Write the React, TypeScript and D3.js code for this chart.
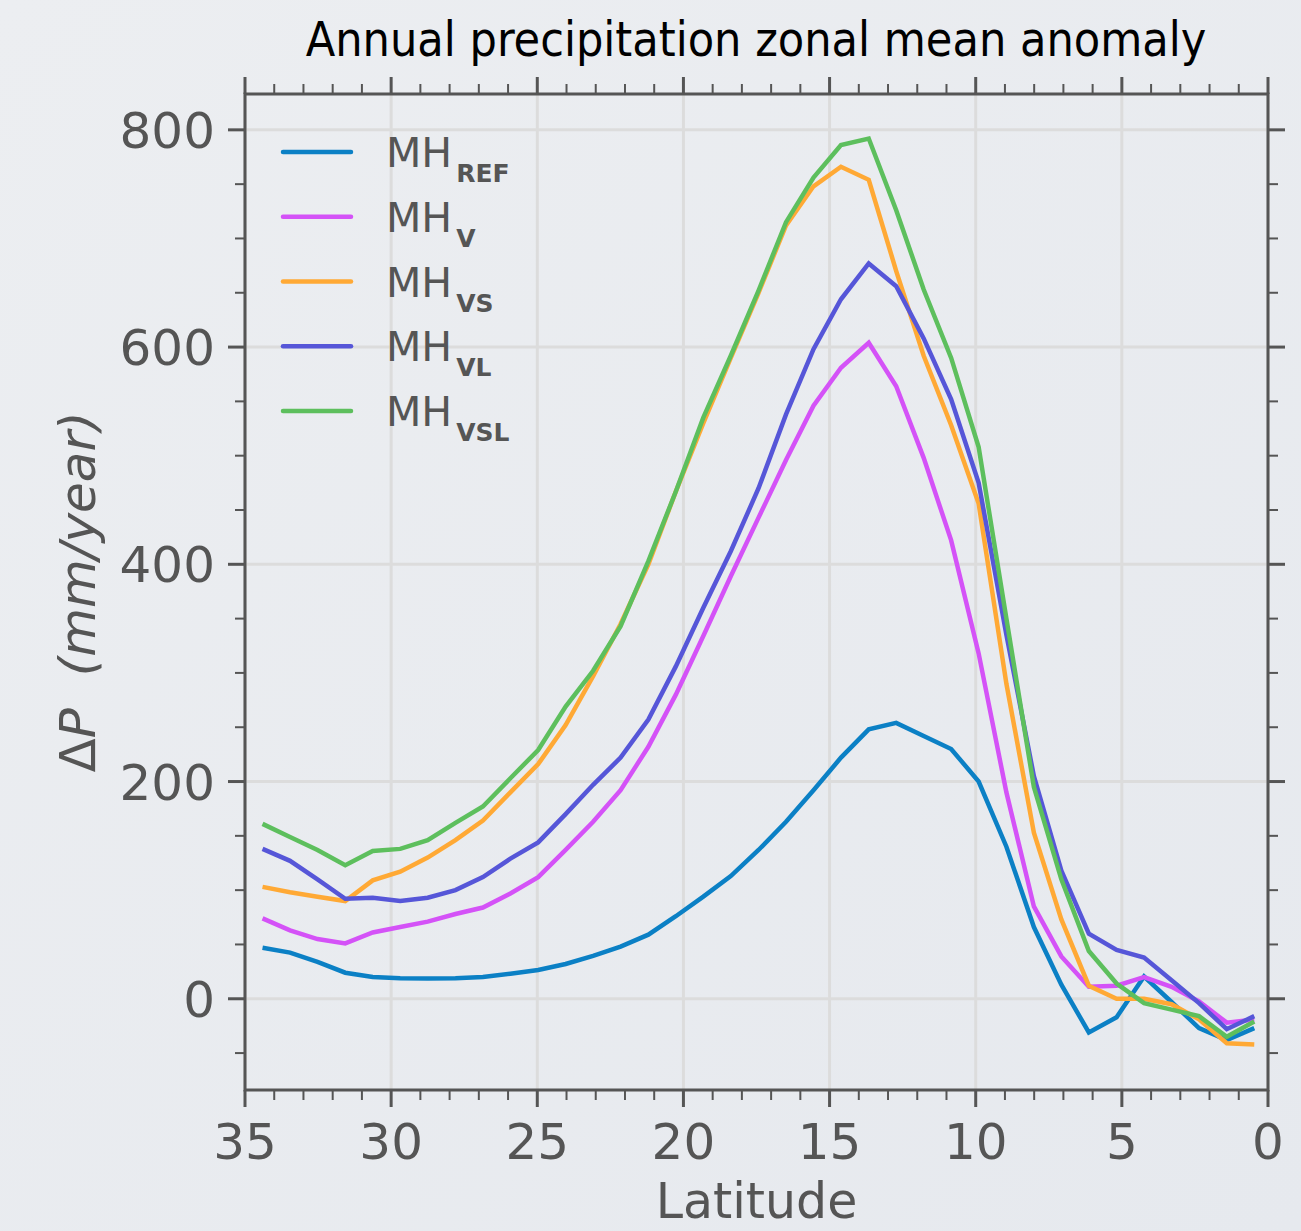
import React from 'react';
import * as d3 from 'd3';

const latitudes = [34.40, 33.46, 32.52, 31.57, 30.63, 29.69, 28.75, 27.80, 26.86, 25.92, 24.97, 24.03, 23.09, 22.15, 21.20, 20.26, 19.32, 18.38, 17.43, 16.49, 15.55, 14.61, 13.66, 12.72, 11.78, 10.84, 9.90, 8.95, 8.01, 7.07, 6.13, 5.18, 4.24, 3.30, 2.36, 1.41, 0.47];
const mhRef = [47, 42.5, 34, 24, 20, 19, 18.7, 19, 20, 23, 26.5, 32, 39.5, 48, 59, 76, 94, 113, 137, 163, 192, 222, 248, 254, 242, 230, 200, 140, 66, 13, -31, -17, 20.5, -3, -27, -38, -27];
const mhV = [74, 63, 55, 51, 61, 66, 71, 78, 84, 97, 112, 137, 163, 192, 232, 280, 334, 389, 443, 496, 546, 581, 604, 564, 498, 422, 318, 190, 85, 39, 11, 12, 20, 11, -2.5, -22, -19];
const mhVS = [103, 98, 94, 90, 109, 117, 130, 146, 164, 190, 216, 252, 297, 345, 400, 467, 530, 590, 650, 712, 748, 766, 754, 670, 592, 528, 456, 290, 153, 73, 12, 0, 0, -5, -19, -41, -42];
const mhVL = [138, 127, 110, 92, 93, 90, 93, 100, 112, 129, 144, 170, 197, 222, 257, 306, 360, 412, 470, 538, 598, 644, 677, 656, 608, 552, 475, 335, 205, 118, 60, 45, 38, 17, -4, -28, -16];
const mhVSL = [161, 149, 137, 123, 136, 138, 146, 162, 177, 203, 229, 269, 302, 343, 403, 467, 535, 592, 652, 715, 756, 786, 792, 726, 653, 590, 508, 350, 195, 110, 44, 14, -4, -10, -16, -35, -21];

const seriesSubscripts = ['REF', 'V', 'VS', 'VL', 'VSL'];
const seriesValues = [mhRef, mhV, mhVS, mhVL, mhVSL];
const seriesColors = ['#0b80c5', '#d452f7', '#ffa935', '#5656d8', '#5dbf5d'];

const xMajorTicks = [35, 30, 25, 20, 15, 10, 5, 0];
const yMajorTicks = [0, 200, 400, 600, 800];
const xDomain = [35, 0];
const yDomain = [-84, 833];

const W = 1301;
const H = 1231;
const L = 245, R = 1268, T = 94, B = 1090;
const AXIS = '#555555';
const FONT = 'DejaVu Sans, sans-serif';

export default function App() {
  const x = d3.scaleLinear().domain(xDomain).range([L, R]);
  const y = d3.scaleLinear().domain(yDomain).range([B, T]);
  const xMinor = d3.range(0, 36, 1).filter((v) => v % 5 !== 0);
  const yMinor = d3.range(-50, 833, 50).filter((v) => v % 200 !== 0);

  const line = d3
    .line<number>()
    .x((_, i) => x(latitudes[i]))
    .y((d) => y(d));

  const majorLen = 17;
  const minorLen = 10;

  return (
    <svg
      width={W}
      height={H}
      style={{ position: 'absolute', left: 0, top: 0, display: 'block' }}
    >
      <defs>
        <linearGradient id="bg" x1="0" y1="0" x2="1" y2="1">
          <stop offset="0" stopColor="#eceef1" />
          <stop offset="1" stopColor="#e6e9ee" />
        </linearGradient>
      </defs>
      <rect x={0} y={0} width={W} height={H} fill="url(#bg)" />

      {/* grid */}
      <g stroke="#dcdcdc" strokeWidth={3}>
        {xMajorTicks.map((t) => (
          <line key={'gx' + t} x1={x(t)} x2={x(t)} y1={T} y2={B} />
        ))}
        {yMajorTicks.map((t) => (
          <line key={'gy' + t} x1={L} x2={R} y1={y(t)} y2={y(t)} />
        ))}
      </g>

      {/* series */}
      <g fill="none" strokeWidth={4.5} strokeLinejoin="miter" strokeLinecap="butt">
        {seriesValues.map((vals, i) => (
          <path key={'s' + i} d={line(vals) || ''} stroke={seriesColors[i]} />
        ))}
      </g>

      {/* spines */}
      <rect x={L} y={T} width={R - L} height={B - T} fill="none" stroke={AXIS} strokeWidth={3} />

      {/* ticks */}
      <g stroke={AXIS}>
        {xMajorTicks.map((t) => (
          <g key={'xt' + t} strokeWidth={3}>
            <line x1={x(t)} x2={x(t)} y1={B} y2={B + majorLen} />
            <line x1={x(t)} x2={x(t)} y1={T} y2={T - majorLen} />
          </g>
        ))}
        {xMinor.map((t) => (
          <g key={'xm' + t} strokeWidth={2}>
            <line x1={x(t)} x2={x(t)} y1={B} y2={B + minorLen} />
            <line x1={x(t)} x2={x(t)} y1={T} y2={T - minorLen} />
          </g>
        ))}
        {yMajorTicks.map((t) => (
          <g key={'yt' + t} strokeWidth={3}>
            <line x1={L} x2={L - majorLen} y1={y(t)} y2={y(t)} />
            <line x1={R} x2={R + majorLen} y1={y(t)} y2={y(t)} />
          </g>
        ))}
        {yMinor.map((t) => (
          <g key={'ym' + t} strokeWidth={2}>
            <line x1={L} x2={L - minorLen} y1={y(t)} y2={y(t)} />
            <line x1={R} x2={R + minorLen} y1={y(t)} y2={y(t)} />
          </g>
        ))}
      </g>

      {/* tick labels */}
      <g fill={AXIS} fontFamily={FONT} fontSize={50}>
        {xMajorTicks.map((t) => (
          <text key={'xl' + t} x={x(t)} y={B + 69} textAnchor="middle">
            {t}
          </text>
        ))}
        {yMajorTicks.map((t) => (
          <text key={'yl' + t} x={L - 30} y={y(t) + 18} textAnchor="end">
            {t}
          </text>
        ))}
      </g>

      {/* axis labels */}
      <text
        x={(L + R) / 2}
        y={1218}
        textAnchor="middle"
        fill={AXIS}
        fontFamily={FONT}
        fontSize={49}
      >
        Latitude
      </text>
      <text
        transform={`translate(95, ${(T + B) / 2}) rotate(-90)`}
        textAnchor="middle"
        fill={AXIS}
        fontFamily={FONT}
        fontSize={50}
      >
        <tspan>Δ</tspan>
        <tspan fontStyle="italic">P</tspan>
        <tspan fontStyle="italic">{'\u00a0 (mm/year)'}</tspan>
      </text>

      {/* title */}
      <text
        x={756}
        y={56}
        textAnchor="middle"
        fill="#000"
        fontFamily="DejaVu Sans Condensed, DejaVu Sans, sans-serif"
        fontStretch="condensed"
        fontSize={48}
      >
        Annual precipitation zonal mean anomaly
      </text>

      {/* legend */}
      <g>
        {seriesSubscripts.map((s, i) => {
          const ly = 152 + i * 64.75;
          return (
            <g key={'lg' + s}>
              <line
                x1={283}
                x2={351}
                y1={ly}
                y2={ly}
                stroke={seriesColors[i]}
                strokeWidth={4.5}
                strokeLinecap="round"
              />
              <text x={386} y={ly + 15} fill={AXIS} fontFamily={FONT} fontSize={41}>
                MH
                <tspan dx={4} dy={15} fontSize={25} fontWeight="bold">
                  {s}
                </tspan>
              </text>
            </g>
          );
        })}
      </g>
    </svg>
  );
}
